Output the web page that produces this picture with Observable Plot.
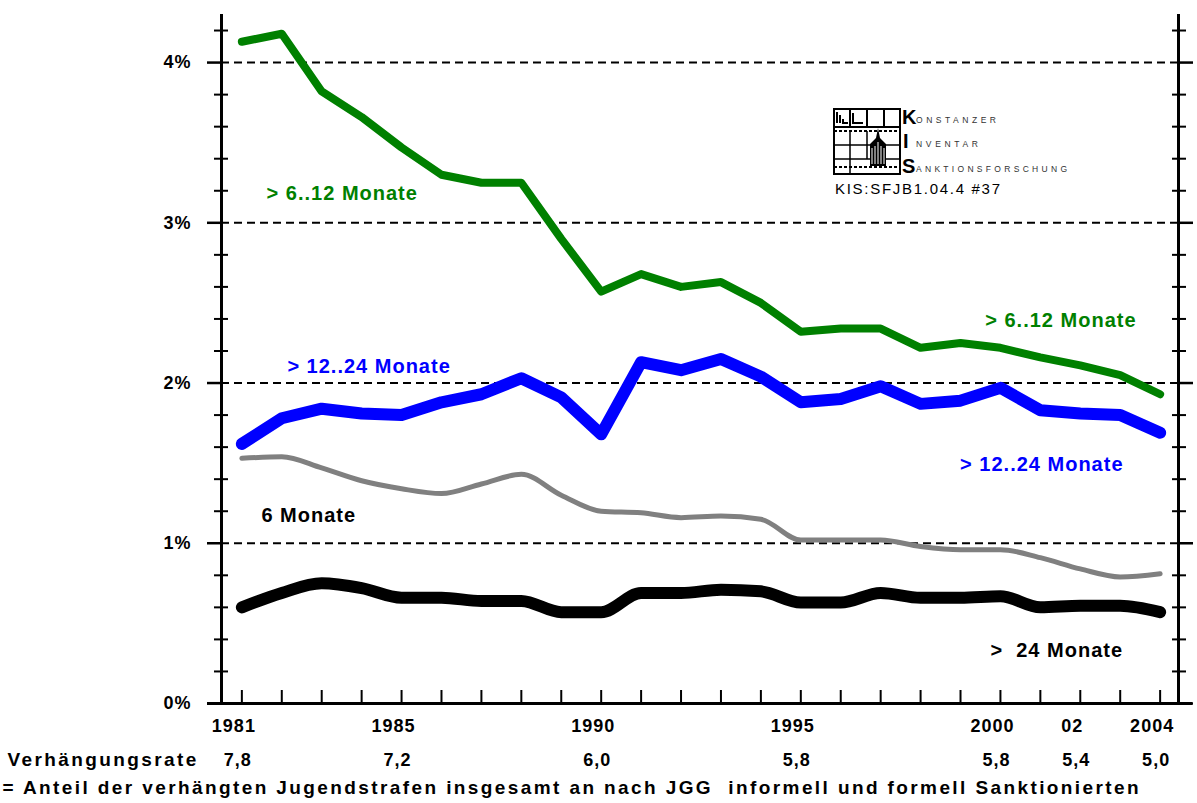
<!DOCTYPE html>
<html>
<head>
<meta charset="utf-8">
<script src="https://cdn.jsdelivr.net/npm/d3@7"></script>
<script src="https://cdn.jsdelivr.net/npm/@observablehq/plot@0.6"></script>
<style>
  html, body { margin: 0; padding: 0; background: #fff; }
  #wrap { position: relative; width: 1197px; height: 803px; overflow: hidden; }
  #chart svg { display: block; }
  #chart svg text { letter-spacing: 1px; white-space: pre; }
  #logo { position: absolute; left: 830px; top: 100px; }
</style>
</head>
<body>
<div id="wrap">
  <div id="chart"></div>
  <svg id="logo" width="250" height="100" viewBox="0 0 250 100">
    <rect x="4" y="9" width="66" height="65" fill="#fff" stroke="#000" stroke-width="2"/>
    <path d="M20 9V27M37 9V27M54 9V27" stroke="#000" stroke-width="2"/>
    <path d="M4 27H70" stroke="#000" stroke-width="2"/>
    <path d="M4 31H70" stroke="#000" stroke-width="2" stroke-dasharray="3 2"/>
    <path d="M4 45H70M4 59H70" stroke="#000" stroke-width="1.5"/>
    <path d="M20 31V74M37 31V59" stroke="#000" stroke-width="1.5"/>
    <path d="M4 67H70" stroke="#000" stroke-width="2" stroke-dasharray="3 2"/>
    <path d="M7 12V23M10 15V23M13 19V23H18M23 13V23H33" stroke="#000" stroke-width="2" fill="none"/>
    <path d="M40 66V44L46 38L48 28L50 38L56 44V66Z" fill="#000"/>
    <path d="M42 48V64M45 46V64M48 42V64M51 46V64M54 48V64" stroke="#fff" stroke-width="1"/>
    <g font-family="Liberation Sans, Arial, sans-serif" font-weight="bold" font-size="20" fill="#000">
      <text x="72" y="24">K</text>
      <text x="73" y="48">I</text>
      <text x="72" y="73">S</text>
    </g>
    <g font-family="Liberation Sans, Arial, sans-serif" font-size="8.5" fill="#333">
      <text x="86" y="23" textLength="80" lengthAdjust="spacing">ONSTANZER</text>
      <text x="86" y="47" textLength="62" lengthAdjust="spacing">NVENTAR</text>
      <text x="86" y="72" textLength="151" lengthAdjust="spacing">ANKTIONSFORSCHUNG</text>
    </g>
    <text x="5" y="94" font-family="Liberation Sans, Arial, sans-serif" font-size="15" fill="#000" textLength="165" lengthAdjust="spacing">KIS:SFJB1.04.4 #37</text>
  </svg>
</div>
<script>
// ---------- data ----------
const years = [1981, 1982, 1983, 1984, 1985, 1986, 1987, 1988, 1989, 1990, 1991, 1992,
               1993, 1994, 1995, 1996, 1997, 1998, 1999, 2000, 2001, 2002, 2003, 2004];

// share (%) of sentenced youth penalties by length
const months6to12  = [4.13, 4.18, 3.82, 3.66, 3.47, 3.30, 3.25, 3.25, 2.90, 2.57, 2.68, 2.60,
                      2.63, 2.50, 2.32, 2.34, 2.34, 2.22, 2.25, 2.22, 2.16, 2.11, 2.05, 1.93];
const months12to24 = [1.62, 1.78, 1.84, 1.81, 1.80, 1.88, 1.93, 2.03, 1.91, 1.68, 2.13, 2.08,
                      2.15, 2.04, 1.88, 1.90, 1.98, 1.87, 1.89, 1.97, 1.83, 1.81, 1.80, 1.69];
const months6      = [1.53, 1.54, 1.47, 1.39, 1.34, 1.31, 1.37, 1.43, 1.30, 1.20, 1.19, 1.16,
                      1.17, 1.15, 1.02, 1.02, 1.02, 0.98, 0.96, 0.96, 0.91, 0.84, 0.79, 0.81];
const monthsOver24 = [0.60, 0.69, 0.75, 0.72, 0.66, 0.66, 0.64, 0.64, 0.57, 0.57, 0.69, 0.69,
                      0.71, 0.70, 0.63, 0.63, 0.69, 0.66, 0.66, 0.67, 0.60, 0.61, 0.61, 0.57];

const seriesNames  = ["> 6..12 Monate", "> 12..24 Monate", "6 Monate", ">  24 Monate"];
const seriesColors = ["#008000", "#0000ff", "#808080", "#000000"];
const labelColors  = ["#008000", "#0000ff", "#000000", "#000000"];
const seriesWidths = [8, 12, 5, 12];

// x-axis labels and the "Verhängungsrate" row
const labelYears = [1981, 1985, 1990, 1995, 2000, 2002, 2004];
const labelTexts = ["1981", "1985", "1990", "1995", "2000", "02", "2004"];
const rateTexts  = ["7,8", "7,2", "6,0", "5,8", "5,8", "5,4", "5,0"];

// y ticks
const yMajor = [0, 1, 2, 3, 4];
const yMinor = [0.2, 0.4, 0.6, 0.8, 1.2, 1.4, 1.6, 1.8, 2.2, 2.4, 2.6, 2.8,
                3.2, 3.4, 3.6, 3.8, 4.2];
const gridLevels = [1, 2, 3, 4];

// in-chart series labels (anchor year, value)
const labelSeries = [0, 0, 1, 1, 2, 3];
const labelX = [1981.62, 1999.62, 1982.14, 1998.99, 1981.49, 1999.75];
const labelY = [3.18, 2.39, 2.10, 1.49, 1.17, 0.33];

const rowTitle = "Verhängungsrate";
const caption = "= Anteil der verhängten Jugendstrafen insgesamt an nach JGG  informell und formell Sanktionierten";

// ---------- tables ----------
const seriesValues = [months6to12, months12to24, months6, monthsOver24];
const lineRows = seriesValues.map((vals, s) => years.map((yr, i) => ({year: yr, value: vals[i], s})));
const rateRows = labelYears.map((yr, i) => ({year: yr, rate: rateTexts[i]}));
const labelMap = new Map(labelYears.map((yr, i) => [yr, labelTexts[i]]));
const seriesLabelRows = labelSeries.map((s, i) => ({x: labelX[i], y: labelY[i], text: seriesNames[s], color: labelColors[s]}));

const xDomain = [1980.49, 2004.46];
const font = "Liberation Sans, Arial, sans-serif";

const drawOrder = [2, 3, 1, 0];

const chart = Plot.plot({
  width: 1197,
  height: 803,
  marginTop: 14,
  marginBottom: 100,
  marginLeft: 221,
  marginRight: 19,
  style: {fontFamily: font, fontWeight: "bold", fontSize: "18px", color: "#000", background: "#fff", overflow: "visible"},
  x: {domain: xDomain, axis: null},
  y: {domain: [0, 4.3], axis: null},
  marks: [
    Plot.ruleY(gridLevels, {stroke: "#000", strokeWidth: 2, strokeDasharray: "8,5"}),
    ...drawOrder.map(s => Plot.line(lineRows[s], {
      x: "year", y: "value", stroke: seriesColors[s], strokeWidth: seriesWidths[s],
      curve: s >= 2 ? "monotone-x" : "linear", strokeLinejoin: "round", strokeLinecap: "round"
    })),
    Plot.ruleX(xDomain, {stroke: "#000", strokeWidth: 3}),
    Plot.ruleY([0], {stroke: "#000", strokeWidth: 3, insetLeft: -14, insetRight: -14}),
    Plot.axisY(yMajor, {anchor: "left", tickSize: 14, tickPadding: 16, strokeWidth: 2.5,
      tickFormat: d => d + "%", label: null, fontSize: 18, fontWeight: "bold"}),
    Plot.axisY(yMajor, {anchor: "right", tickSize: 14, strokeWidth: 2.5, tickFormat: () => "", label: null}),
    Plot.axisY(yMinor, {anchor: "left", tickSize: 14, dx: 7, strokeWidth: 2, tickFormat: () => "", label: null}),
    Plot.axisY(yMinor, {anchor: "right", tickSize: 14, dx: -7, strokeWidth: 2, tickFormat: () => "", label: null}),
    Plot.axisX(years, {anchor: "bottom", tickSize: 13, dy: -13, strokeWidth: 2, tickFormat: () => "", label: null}),
    Plot.axisX(labelYears, {anchor: "bottom", tickSize: 0, tickPadding: 16, dx: -8,
      tickFormat: d => labelMap.get(d), label: null, fontSize: 18, fontWeight: "bold"}),
    Plot.text(rateRows, {x: "year", text: "rate", frameAnchor: "bottom", dy: 62, dx: -4,
      fontSize: 18, fontWeight: "bold"}),
    Plot.text([rowTitle], {text: d => d, frameAnchor: "bottom-left", textAnchor: "start",
      dx: -214, dy: 62, fontSize: 19, fontWeight: "bold"}),
    Plot.text([caption], {text: d => d, frameAnchor: "bottom-left", textAnchor: "start",
      dx: -219, dy: 90, fontSize: 19, fontWeight: "bold"}),
    Plot.text(seriesLabelRows, {x: "x", y: "y", text: "text", fill: "color", textAnchor: "start",
      fontSize: 20, fontWeight: "bold"})
  ]
});
// wider letter spacing for the two long bottom rows, as in the original rendering
chart.querySelectorAll("text").forEach(t => {
  if (t.textContent === caption || t.textContent === rowTitle) t.style.letterSpacing = "2.4px";
});
document.getElementById("chart").appendChild(chart);
</script>
</body>
</html>
